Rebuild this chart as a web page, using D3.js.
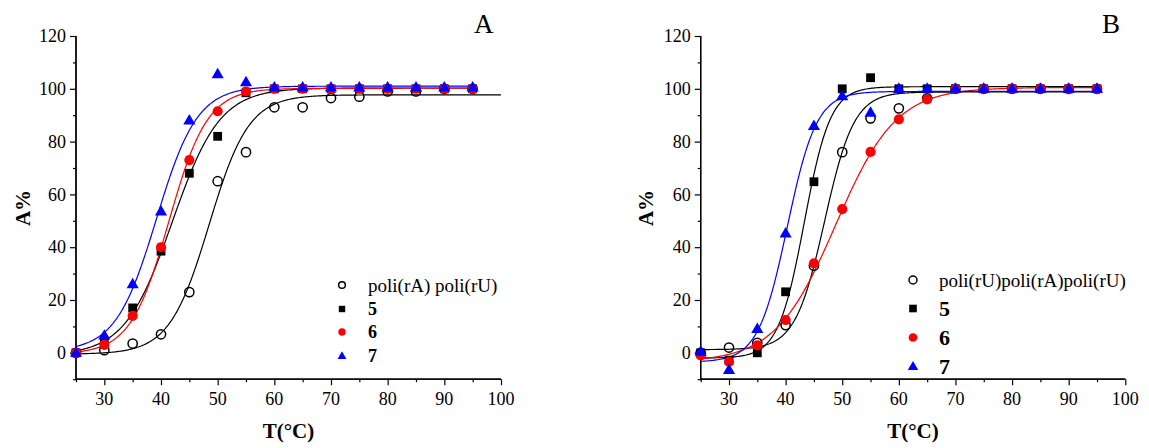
<!DOCTYPE html>
<html>
<head>
<meta charset="utf-8">
<script src="https://cdn.jsdelivr.net/npm/d3@7/dist/d3.min.js"></script>
<style>
  html, body { margin: 0; padding: 0; background: #fff; }
  svg text { font-family: 'Liberation Serif', 'DejaVu Serif', serif; }
</style>
</head>
<body>
<svg id="chart" width="1149" height="448"></svg>
<script>
// Temperatures (°C) at which absorbance was recorded
const temps = [25, 30, 35, 40, 45, 50, 55, 60, 65, 70, 75, 80, 85, 90, 95];

// Panel A: duplex poli(rA)·poli(rU) and with compounds 5, 6, 7 (A %)
const panelA_duplex = [0, 1, 3.5, 7, 23, 65, 76, 93, 93, 96.5, 97, 99, 99, 100, 100];
const panelA_c5     = [0, 4.5, 17, 38.5, 68, 82, 98.5, 100, 100, 100, 100, 100, 100, 100, 100];
const panelA_c6     = [0, 3, 14, 40, 73, 91.5, 99, 100, 100, 100, 100, 100, 100, 100, 100];
const panelA_c7     = [0, 6.5, 26, 53.5, 88, 105.5, 102.5, 100.5, 100.5, 100.5, 100.5, 100.5, 100.5, 100.5, 100.5];

// Panel B: triplex poli(rU)·poli(rA)·poli(rU) and with compounds 5, 6, 7 (A %)
const panelB_triplex = [0, 2, 3.8, 10.5, 33, 76, 88.8, 92.6, 96.4, 100, 100, 100, 100, 100, 100];
const panelB_c5      = [0, -2.8, 0, 23.1, 64.8, 100, 104.2, 100, 100, 100, 100, 100, 100, 100, 100];
const panelB_c6      = [-1, -3.4, 2.8, 12.4, 33.9, 54.4, 76.1, 88.4, 96, 100, 100, 100, 100, 100, 100];
const panelB_c7      = [0.4, -6.5, 9, 45.2, 85.9, 97.2, 90.9, 100, 100, 100, 100, 100, 100, 100, 100];

// Boltzmann fit parameters [A1, A2, x0, dx]
const fitA_duplex  = [-0.5, 97.7, 48.5, 3.5];
const fitA_c5      = [-1, 100.3, 42, 4.2];
const fitA_c6      = [-0.5, 100.2, 41.4, 3.4];
const fitA_c7      = [0.5, 101, 39.2, 3.6];
const fitB_triplex = [1.2, 98.8, 46.9, 2.6];
const fitB_c5      = [-2, 100.8, 43.3, 2.3];
const fitB_c6      = [-3.5, 100.5, 48.85, 5.33];
const fitB_c7      = [-3.5, 99, 40.3, 2.58];

// Axis ticks
const xTicks = [30, 40, 50, 60, 70, 80, 90, 100];
const xMinorTicks = [25, 35, 45, 55, 65, 75, 85, 95];
const yTicks = [0, 20, 40, 60, 80, 100, 120];
const yMinorTicks = [-10, 10, 30, 50, 70, 90, 110];

const legendA = ["poli(rA) poli(rU)", "5", "6", "7"];
const legendB = ["poli(rU)poli(rA)poli(rU)", "5", "6", "7"];

const FONT = "'Liberation Serif', 'DejaVu Serif', serif";

const boltzmann = (p, x) => p[1] + (p[0] - p[1]) / (1 + Math.exp((x - p[2]) / p[3]));

const svg = d3.select("#chart");

const styles = [
  { shape: "openCircle", color: "#000" },
  { shape: "square", color: "#000" },
  { shape: "circle", color: "#ff0000" },
  { shape: "triangle", color: "#0000ff" }
];

function drawMarker(g, shape, color, x, y, s) {
  if (shape === "openCircle") {
    g.append("circle").attr("cx", x).attr("cy", y).attr("r", s * 0.42)
      .attr("fill", "none").attr("stroke", "#000").attr("stroke-width", 1.5);
  } else if (shape === "square") {
    g.append("rect").attr("x", x - s * 0.4).attr("y", y - s * 0.4)
      .attr("width", s * 0.8).attr("height", s * 0.8).attr("fill", color);
  } else if (shape === "circle") {
    g.append("circle").attr("cx", x).attr("cy", y).attr("r", s * 0.46).attr("fill", color);
  } else {
    const h = s * 0.95, w = s * 1.1;
    g.append("path")
      .attr("d", `M${x},${y - h * 0.62}L${x + w / 2},${y + h * 0.38}L${x - w / 2},${y + h * 0.38}Z`)
      .attr("fill", color);
  }
}

function txt(g) {
  return g.append("text").attr("font-family", FONT).attr("fill", "#000");
}

function panel(cfg) {
  const x = d3.scaleLinear().domain([25, 100]).range([cfg.x0, cfg.x1]);
  const y = d3.scaleLinear().domain([-10, 120]).range([379.2, 36]);
  const g = svg.append("g");

  // axes (left and bottom only)
  const xAxis = g.append("g").attr("transform", `translate(0,${y(-10)})`)
    .call(d3.axisBottom(x).tickValues(xTicks).tickSize(6).tickFormat(""));
  xAxis.append("g").call(d3.axisBottom(x).tickValues(xMinorTicks).tickSize(3).tickFormat(""));
  const yAxis = g.append("g").attr("transform", `translate(${x(25)},0)`)
    .call(d3.axisLeft(y).tickValues(yTicks).tickSize(6).tickFormat(""));
  yAxis.append("g").call(d3.axisLeft(y).tickValues(yMinorTicks).tickSize(3).tickFormat(""));
  g.selectAll(".domain").attr("stroke", "#000").attr("stroke-width", 1.3);
  g.selectAll(".tick line").attr("stroke", "#000").attr("stroke-width", 1.2);
  xAxis.selectAll(".domain").attr("d", `M${x(25)},0H${x(100)}`);
  yAxis.selectAll(".domain").attr("d", `M0,${y(-10)}V${y(120)}`);

  xTicks.forEach(d => txt(g).attr("x", x(d)).attr("y", 405)
    .attr("text-anchor", "middle").attr("font-size", 18).text(d));
  yTicks.forEach(d => txt(g).attr("x", x(25) - 10).attr("y", y(d)).attr("dy", "0.34em")
    .attr("text-anchor", "end").attr("font-size", 18).text(d));

  // axis titles and panel letter
  txt(g).attr("transform", `translate(${cfg.yTitleX},208) rotate(-90)`)
    .attr("text-anchor", "middle").attr("dy", "0.35em")
    .attr("font-size", 21).attr("font-weight", "bold").text("A%");
  txt(g).attr("x", (cfg.x0 + cfg.x1) / 2).attr("y", 438)
    .attr("text-anchor", "middle").attr("font-size", 21).attr("font-weight", "bold").text("T(°C)");
  txt(g).attr("x", cfg.letterX).attr("y", 33).attr("font-size", 27).text(cfg.letter);

  // fitted curves
  const line = d3.line().x(d => x(d[0])).y(d => y(d[1]));
  cfg.fits.forEach((p, i) => {
    const pts = d3.range(25, cfg.fitEnds[i] + 0.001, 0.25).map(t => [t, boltzmann(p, t)]);
    g.append("path").attr("d", line(pts)).attr("fill", "none")
      .attr("stroke", styles[i].color).attr("stroke-width", 1.2);
  });

  // measured points
  cfg.series.forEach((vals, i) => {
    const mg = g.append("g");
    vals.forEach((v, j) => drawMarker(mg, styles[i].shape, styles[i].color, x(temps[j]), y(v), 11));
  });

  // legend
  const lg = g.append("g");
  cfg.legend.forEach((label, i) => {
    const ry = cfg.legRows[i];
    drawMarker(lg, styles[i].shape, styles[i].color, cfg.legMarkX, ry, cfg.legMarkSize);
    const t = txt(lg).attr("x", cfg.legTextX).attr("y", ry).attr("dy", "0.35em").text(label);
    if (i === 0) t.attr("font-size", 19);
    else t.attr("font-size", cfg.numSize).attr("font-weight", "bold");
  });
}

panel({
  x0: 76, x1: 501, yTitleX: 23, letter: "A", letterX: 474,
  series: [panelA_duplex, panelA_c5, panelA_c6, panelA_c7],
  fits: [fitA_duplex, fitA_c5, fitA_c6, fitA_c7],
  fitEnds: [100, 95, 95, 95],
  legend: legendA, legRows: [285, 309, 332, 356], legMarkX: 342, legTextX: 368,
  legMarkSize: 8, numSize: 18
});

panel({
  x0: 700.7, x1: 1125.3, yTitleX: 646, letter: "B", letterX: 1102,
  series: [panelB_triplex, panelB_c5, panelB_c6, panelB_c7],
  fits: [fitB_triplex, fitB_c5, fitB_c6, fitB_c7],
  fitEnds: [95, 95, 95, 95],
  legend: legendB, legRows: [280, 308.5, 337.5, 366.5], legMarkX: 913, legTextX: 939,
  legMarkSize: 9.5, numSize: 22
});
</script>
</body>
</html>
